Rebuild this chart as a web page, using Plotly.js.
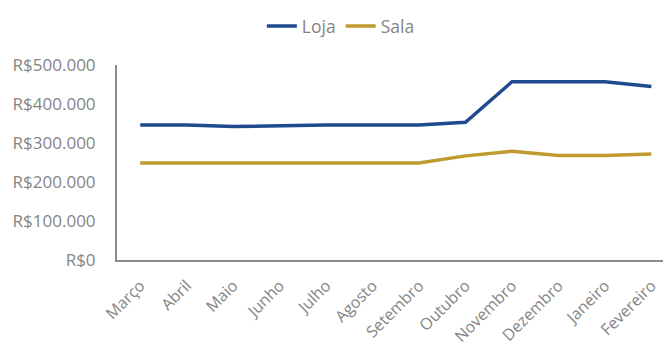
<!DOCTYPE html>
<html>
<head>
<meta charset="utf-8">
<script src="https://cdn.plot.ly/plotly-3.0.1.min.js"></script>
<style>html,body{margin:0;padding:0;background:#fff;}#chart{width:663px;height:351px;}</style>
</head>
<body>
<div id="chart"></div>
<script>
const months = ["Março","Abril","Maio","Junho","Julho","Agosto","Setembro","Outubro","Novembro","Dezembro","Janeiro","Fevereiro"];
const loja = [346000,346000,342000,345000,346000,346000,346000,353000,457000,457000,457000,445000];
const sala = [249000,249000,249000,249000,249000,249000,249000,267000,279000,268000,268000,272000];
const yTickVals = [0,100000,200000,300000,400000,500000];
const yTickText = ["R$0","R$100.000","R$200.000","R$300.000","R$400.000","R$500.000"];

const traces = [
  {x: months, y: loja, name: "Loja", type: "scatter", mode: "lines",
   line: {color: "#1f4b8e", width: 3.5}},
  {x: months, y: sala, name: "Sala", type: "scatter", mode: "lines",
   line: {color: "#bf9a2e", width: 3.5}}
];

const layout = {
  width: 663, height: 351,
  margin: {l: 117, r: 0, t: 65, b: 91},
  paper_bgcolor: "#fff", plot_bgcolor: "#fff",
  font: {family: "Open Sans, sans-serif", color: "#858585", size: 16},
  showlegend: true,
  legend: {orientation: "h", x: 0.41, xanchor: "center", y: 1.2, yanchor: "middle",
           font: {size: 17.5, color: "#858585"}, itemwidth: 30, tracegroupgap: 0},
  xaxis: {type: "category", range: [-0.5, 11.25], showgrid: false, zeroline: false,
          showline: true, linecolor: "#8c8c8c", linewidth: 2, tickangle: -45,
          ticks: "", ticklabelstandoff: 8, tickfont: {size: 16, color: "#858585"}, fixedrange: true},
  yaxis: {range: [0, 500000], tickvals: yTickVals, ticktext: yTickText, showgrid: false,
          zeroline: false, showline: true, linecolor: "#8c8c8c", linewidth: 2,
          ticks: "", ticklabelstandoff: 16, tickfont: {size: 17, color: "#858585"}, fixedrange: true}
};

Plotly.newPlot("chart", traces, layout, {displayModeBar: false, staticPlot: true});
</script>
</body>
</html>
